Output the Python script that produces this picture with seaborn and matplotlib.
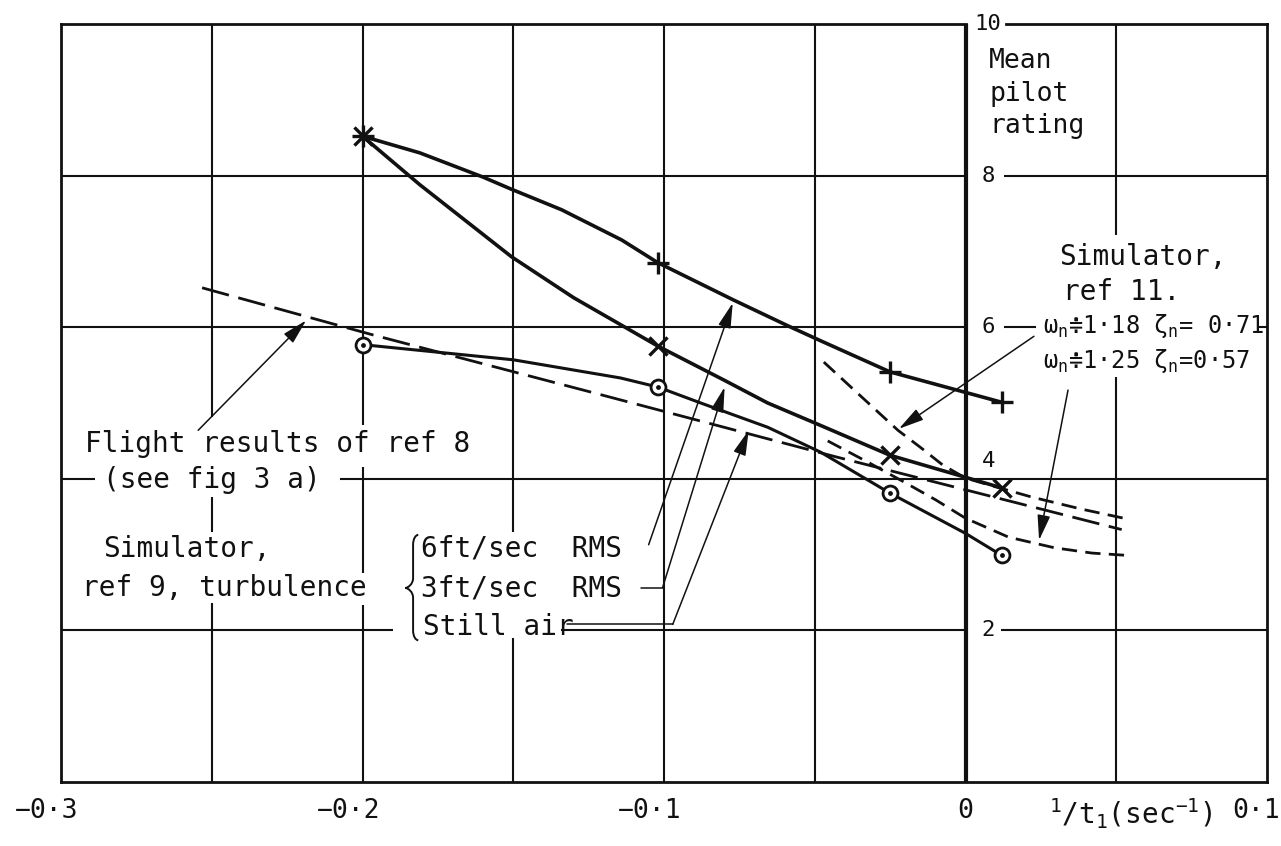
import numpy as np
import matplotlib
matplotlib.use("Agg")
import matplotlib.pyplot as plt
from matplotlib.path import Path
from matplotlib.patches import PathPatch
import seaborn as sns

# ---------------------------------------------------------------- data
# 1/t1 (sec^-1) of the ref 9 simulator runs
run_inv_t1 = [-0.2, -0.102, -0.025, 0.012]
# mean pilot rating for each turbulence level
rating_6ft = [8.52, 6.85, 5.41, 5.01]
rating_3ft = [8.52, 5.75, 4.31, 3.88]
rating_still = [5.77, 5.21, 3.81, 2.99]

# faired curves drawn through the simulator points
fair_6ft_x = [-0.2, -0.181, -0.160, -0.1506, -0.134, -0.114, -0.102, -0.077, -0.059, -0.048, -0.025, 0.012]
fair_6ft_y = [8.52, 8.30, 7.98, 7.82, 7.55, 7.15, 6.85, 6.36, 6.02, 5.82, 5.41, 5.01]
fair_3ft_x = [-0.2, -0.181, -0.1506, -0.130, -0.102, -0.080, -0.0656, -0.049, -0.025, 0.0, 0.012]
fair_3ft_y = [8.52, 7.88, 6.93, 6.39, 5.75, 5.30, 5.00, 4.72, 4.31, 4.02, 3.88]
fair_still_x = [-0.2, -0.150, -0.1144, -0.102, -0.0878, -0.0656, -0.048, -0.025, 0.0, 0.012]
fair_still_y = [5.77, 5.57, 5.33, 5.21, 5.00, 4.68, 4.35, 3.81, 3.28, 2.99]

# flight results of ref 8
flight_x = [-0.2532, -0.1967, -0.121, -0.043, 0.0518]
flight_y = [6.52, 5.90, 5.11, 4.29, 3.33]

# simulator, ref 11
ref11_118_x = [-0.047, -0.038, -0.0298, -0.0224, -0.0148, -0.0075, 0.0, 0.0086, 0.0219, 0.0385, 0.0525]
ref11_118_y = [5.54, 5.21, 4.91, 4.64, 4.41, 4.18, 4.01, 3.91, 3.76, 3.60, 3.48]
ref11_125_x = [-0.0457, -0.0324, -0.0205, -0.0098, 0.0, 0.0143, 0.0295, 0.042, 0.0535]
ref11_125_y = [4.50, 4.22, 3.96, 3.72, 3.48, 3.23, 3.09, 3.02, 2.99]

x_tick_vals = [-0.3, -0.2, -0.1, 0.0, 0.1]
x_tick_labels = ["−0·3", "−0·2", "−0·1", "0", "0·1"]
y_tick_vals = [10, 8, 6, 4, 2]
y_tick_labels = ["10", "8", "6", "4", "2"]

# ---------------------------------------------------------------- style
sns.set_theme(style="white")
plt.rcParams["font.family"] = ["DejaVu Sans Mono", "DejaVu Sans"]
plt.rcParams["mathtext.fontset"] = "custom"
plt.rcParams["mathtext.rm"] = "DejaVu Sans Mono"
plt.rcParams["mathtext.it"] = "DejaVu Sans Mono"
plt.rcParams["mathtext.default"] = "regular"

INK = "#111111"

fig = plt.figure(figsize=(12.81, 8.46), dpi=100)
ax = fig.add_axes([61 / 1281, 64 / 846, 1206 / 1281, 758 / 846])
ax.set_xlim(-0.3, 0.1)
ax.set_ylim(0, 10)
ax.axis("off")

# ---------------------------------------------------------------- grid (broken round the lettering)
grid_kw = dict(color=INK, lw=1.5, solid_capstyle="butt", zorder=1, clip_on=False)
v_grid = {
    -0.25: [(0, 2.36), (3.30, 3.76), (4.82, 10)],
    -0.20: [(0, 2.34), (2.76, 4.16), (4.71, 10)],
    -0.15: [(0, 1.90), (3.30, 10)],
    -0.10: [(0, 10)],
    -0.05: [(0, 10)],
    0.05: [(0, 5.34), (7.22, 10)],
}
for gx, spans in v_grid.items():
    for y0, y1 in spans:
        ax.plot([gx, gx], [y0, y1], **grid_kw)

h_grid = {
    2: [(-0.3, -0.190), (-0.1343, 0.0), (0.0118, 0.1)],
    4: [(-0.3, -0.2887), (-0.2074, 0.1)],
    6: [(-0.3, 0.0), (0.0128, 0.0234), (0.097, 0.1)],
    8: [(-0.3, 0.0), (0.0128, 0.1)],
}
for gy, spans in h_grid.items():
    for x0, x1 in spans:
        ax.plot([x0, x1], [gy, gy], **grid_kw)

frame_kw = dict(color=INK, lw=2.0, solid_capstyle="projecting", zorder=2, clip_on=False)
ax.plot([-0.3, -0.3], [0, 10], **frame_kw)
ax.plot([0.1, 0.1], [0, 10], **frame_kw)
ax.plot([-0.3, 0.1], [0, 0], **frame_kw)
ax.plot([-0.3, 0.0], [10, 10], **frame_kw)
ax.plot([0.0134, 0.1], [10, 10], **frame_kw)
# rating axis at 1/t1 = 0
ax.plot([0, 0], [0, 10], color=INK, lw=3.0, solid_capstyle="butt", zorder=2, clip_on=False)

# ---------------------------------------------------------------- curves
def faired(x, y, lw, ls="-"):
    sns.lineplot(x=x, y=y, ax=ax, sort=False, estimator=None, color=INK,
                 lw=lw, linestyle=ls, legend=False, zorder=3,
                 solid_joinstyle="round", dash_joinstyle="round")

faired(fair_6ft_x, fair_6ft_y, 2.6)
faired(fair_3ft_x, fair_3ft_y, 2.6)
faired(fair_still_x, fair_still_y, 2.2)
faired(flight_x, flight_y, 2.0, (0, (10, 3.5)))
faired(ref11_118_x, ref11_118_y, 2.0, (0, (5.5, 3)))
faired(ref11_125_x, ref11_125_y, 2.0, (0, (5.5, 3)))

# ---------------------------------------------------------------- points
sns.scatterplot(x=run_inv_t1, y=rating_6ft, ax=ax, marker="+", s=260, color=INK,
                linewidth=2.4, zorder=5, legend=False)
sns.scatterplot(x=run_inv_t1, y=rating_3ft, ax=ax, marker="x", s=170, color=INK,
                linewidth=2.4, zorder=5, legend=False)
sns.scatterplot(x=run_inv_t1, y=rating_still, ax=ax, marker="o", s=115, color="white",
                edgecolor=INK, linewidth=2.0, zorder=5, legend=False)
sns.scatterplot(x=run_inv_t1, y=rating_still, ax=ax, marker="o", s=12, color=INK,
                edgecolor=INK, linewidth=0, zorder=6, legend=False)

# ---------------------------------------------------------------- lettering
TXT = 20
ax.text(0.0078, 9.68, "Mean\npilot\nrating", ha="left", va="top", fontsize=19,
        linespacing=1.32, color=INK)

y_nudge = [0.0, 0.0, 0.0, 0.23, 0.0]
for v, lab, dv in zip(y_tick_vals, y_tick_labels, y_nudge):
    ax.text(0.0075, v + dv, lab, ha="center", va="center", fontsize=16, color=INK)

for v, lab in zip(x_tick_vals, x_tick_labels):
    if v < 0:
        ax.text(v + 0.0058, -0.38, lab, ha="right", va="center", fontsize=19, color=INK)
    elif v == 0:
        ax.text(v, -0.38, lab, ha="center", va="center", fontsize=19, color=INK)
    else:
        ax.text(v - 0.0035, -0.38, lab, ha="center", va="center", fontsize=19, color=INK)

ax.text(0.0549, -0.42, "$^{1}$/t$_{1}$(sec$^{-1}$)", ha="center", va="center",
        fontsize=20, color=INK)

ax.text(0.031, 6.82, "Simulator,", ha="left", va="baseline", fontsize=TXT, color=INK)
ax.text(0.0323, 6.36, "ref 11.", ha="left", va="baseline", fontsize=TXT, color=INK)
ax.text(0.0257, 5.92, "ω$_{n}$≑1·18 ζ$_{n}$= 0·71", ha="left", va="baseline",
        fontsize=17, color=INK)
ax.text(0.0257, 5.46, "ω$_{n}$≑1·25 ζ$_{n}$=0·57", ha="left", va="baseline",
        fontsize=17, color=INK)

ax.text(-0.292, 4.35, "Flight results of ref 8", ha="left", va="baseline", fontsize=TXT, color=INK)
ax.text(-0.286, 3.88, "(see fig 3 a)", ha="left", va="baseline", fontsize=TXT, color=INK)
ax.text(-0.286, 2.97, "Simulator,", ha="left", va="baseline", fontsize=TXT, color=INK)
ax.text(-0.293, 2.45, "ref 9, turbulence", ha="left", va="baseline", fontsize=TXT, color=INK)
ax.text(-0.1805, 2.97, "6ft/sec  RMS", ha="left", va="baseline", fontsize=TXT, color=INK)
ax.text(-0.1805, 2.45, "3ft/sec  RMS", ha="left", va="baseline", fontsize=TXT, color=INK)
ax.text(-0.1798, 1.94, "Still air", ha="left", va="baseline", fontsize=TXT, color=INK)

# brace grouping the three turbulence levels
bt, bw = -0.1858, 0.0043
yb0, ym, yb1 = 1.87, 2.56, 3.26
bm = bt + 0.6 * bw
verts = [
    (bt + bw, yb1),
    (bm + 0.2 * bw, yb1), (bm, yb1 - 0.05), (bm, yb1 - 0.13),
    (bm, ym + 0.13),
    (bm, ym + 0.05), (bt + 0.2 * bw, ym), (bt, ym),
    (bt + 0.2 * bw, ym), (bm, ym - 0.05), (bm, ym - 0.13),
    (bm, yb0 + 0.13),
    (bm, yb0 + 0.05), (bm + 0.2 * bw, yb0), (bt + bw, yb0),
]
codes = [Path.MOVETO, Path.CURVE4, Path.CURVE4, Path.CURVE4, Path.LINETO,
         Path.CURVE4, Path.CURVE4, Path.CURVE4, Path.CURVE4, Path.CURVE4, Path.CURVE4,
         Path.LINETO, Path.CURVE4, Path.CURVE4, Path.CURVE4]
ax.add_patch(PathPatch(Path(verts, codes), fill=False, lw=1.4, edgecolor=INK, zorder=4))

# ---------------------------------------------------------------- leaders
arrow = dict(arrowstyle="-|>,head_length=1.1,head_width=0.28", mutation_scale=14,
             lw=1.1, color=INK, shrinkA=0, shrinkB=0)
def leader(start, tip):
    ax.annotate("", xy=tip, xytext=start, arrowprops=arrow, zorder=4)

leader((-0.2545, 4.64), (-0.2187, 6.09))
leader((-0.1051, 3.13), (-0.0772, 6.32))
ax.plot([-0.1075, -0.1005], [2.56, 2.56], color=INK, lw=1.1, zorder=4)
leader((-0.1005, 2.56), (-0.0799, 5.21))
ax.plot([-0.1323, -0.0971], [2.08, 2.08], color=INK, lw=1.1, zorder=4)
leader((-0.0971, 2.08), (-0.0719, 4.64))
leader((0.0227, 5.88), (-0.0221, 4.66))
leader((0.034, 5.17), (0.0244, 3.19))

fig.savefig("out.png", dpi=100)
